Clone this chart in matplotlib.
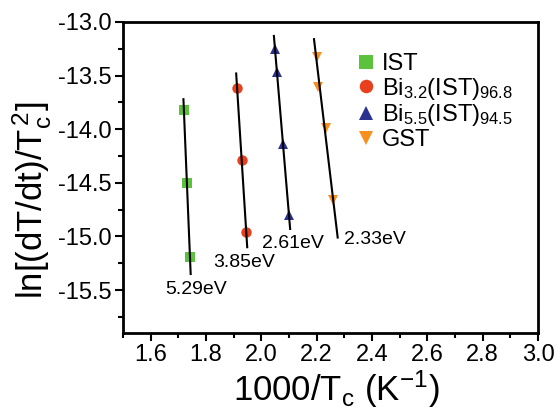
import numpy as np
import matplotlib
matplotlib.use("Agg")
import matplotlib.pyplot as plt
from matplotlib.ticker import MultipleLocator

plt.rcParams['font.family'] = ['Liberation Sans', 'DejaVu Sans']
plt.rcParams['mathtext.fontset'] = 'custom'
plt.rcParams['mathtext.rm'] = 'Liberation Sans'
plt.rcParams['mathtext.it'] = 'Liberation Sans:italic'
plt.rcParams['mathtext.bf'] = 'Liberation Sans:bold'
plt.rcParams['axes.unicode_minus'] = False

# Data
ist_x = [1.720, 1.731, 1.742]
ist_y = [-13.82, -14.50, -15.19]
bi32_x = [1.912, 1.930, 1.945]
bi32_y = [-13.62, -14.29, -14.96]
bi55_x = [2.049, 2.057, 2.078, 2.100]
bi55_y = [-13.25, -13.47, -14.14, -14.80]
gst_x = [2.201, 2.205, 2.233, 2.259]
gst_y = [-13.33, -13.61, -13.99, -14.66]

# fit line y-extents
ist_line_y = [-13.72, -15.35]
bi32_line_y = [-13.48, -15.10]
bi55_line_y = [-13.13, -14.93]
gst_line_y = [-13.16, -15.01]

energies = ['5.29eV', '3.85eV', '2.61eV', '2.33eV']
energy_x = [1.764, 1.939, 2.114, 2.409]
energy_y = [-15.49, -15.24, -15.07, -15.03]

labels = ['IST', r'Bi$_{3.2}$(IST)$_{96.8}$', r'Bi$_{5.5}$(IST)$_{94.5}$', 'GST']
colors = ['#5cc13c', '#e8401e', '#2b3190', '#f7901e']
markers = ['s', 'o', '^', 'v']

fig = plt.figure(figsize=(5.56, 4.08), dpi=100)
ax = fig.add_axes([123/556, 1-333/408, (538-123)/556, (333-22)/408])

series = [(ist_x, ist_y, ist_line_y), (bi32_x, bi32_y, bi32_line_y),
          (bi55_x, bi55_y, bi55_line_y), (gst_x, gst_y, gst_line_y)]

for (xs, ys, ly), lab, c, m in zip(series, labels, colors, markers):
    ax.plot(xs, ys, linestyle='none', marker=m, color=c, markersize=7.5,
            markeredgewidth=0, label=lab, zorder=2)
    p = np.polyfit(ys, xs, 1)
    ly = np.array(ly)
    ax.plot(np.polyval(p, ly), ly, color='black', lw=1.5, zorder=3)

for t, x, y in zip(energies, energy_x, energy_y):
    ax.text(x, y, t, ha='center', va='center', fontsize=14)

ax.set_xlim(1.5, 3.0)
ax.set_ylim(-15.9, -13.0)
ax.set_xticks(np.arange(1.6, 3.01, 0.2))
ax.set_yticks(np.arange(-15.5, -12.99, 0.5))
ax.xaxis.set_minor_locator(MultipleLocator(0.1))
ax.yaxis.set_minor_locator(MultipleLocator(0.25))
ax.tick_params(which='both', direction='out', top=False, right=False, width=1.5,
               labelsize=17, pad=2)
ax.tick_params(which='major', length=6)
ax.tick_params(which='minor', length=3.5)
for s in ax.spines.values():
    s.set_linewidth(2)

ax.set_xlabel(r'1000/T$_{\mathrm{c}}$ (K$^{-1}$)', fontsize=25)
ax.xaxis.set_label_coords(336/556, 1-368/408, transform=fig.transFigure)
ax.set_ylabel(r'ln[(dT/dt)/T$_{\mathrm{c}}^{\,2}$]', fontsize=25)
ax.yaxis.set_label_coords(54/556, 1-200/408, transform=fig.transFigure)

leg = ax.legend(loc='upper left', bbox_to_anchor=(357/556, 1-53/408),
                bbox_transform=fig.transFigure, frameon=False, fontsize=17,
                handlelength=0.8, handletextpad=0.25, labelspacing=0.03,
                borderpad=0, borderaxespad=0, markerscale=1.3)

fig.savefig('out.png', dpi=100)
